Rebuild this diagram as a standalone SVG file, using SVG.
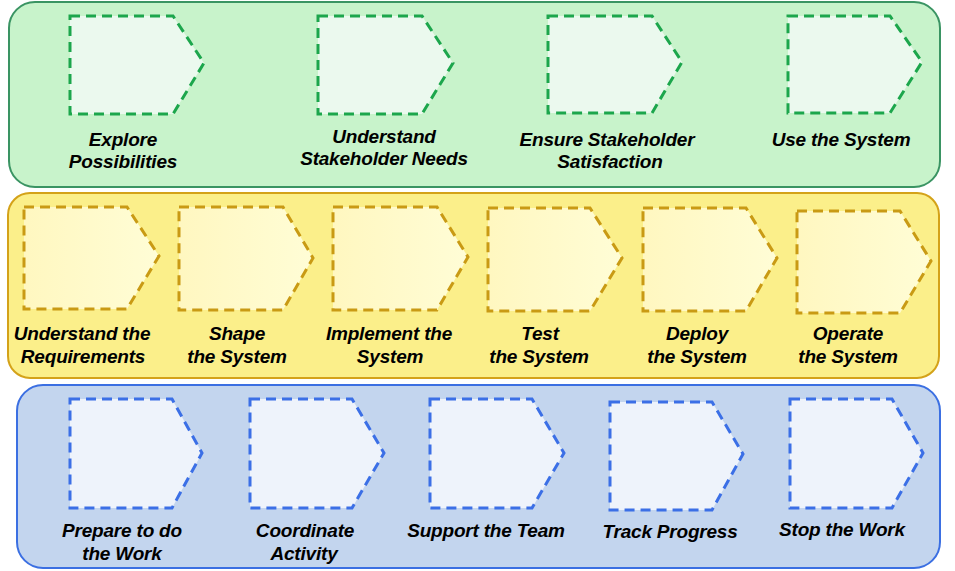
<svg xmlns="http://www.w3.org/2000/svg" width="955" height="571" viewBox="0 0 955 571">
  <defs>
    <style>
      .band-g { fill: #c8f3cb; stroke: #3a9463; stroke-width: 2; }
      .band-y { fill: #fbef8a; stroke: #d4a219; stroke-width: 2; }
      .band-b { fill: #c3d5ee; stroke: #3b6fe2; stroke-width: 2; }
      .step { stroke-width: 3; stroke-dasharray: 10 6; stroke-linejoin: miter; }
      .step-g { fill: #ebf9ee; stroke: #1ca64c; }
      .step-y { fill: url(#yfill); stroke: #c99a14; }
      .step-b { fill: #eef3fb; stroke: #3b6fe6; }
      text { font-family: "Liberation Sans", Arial, sans-serif; font-size: 19px; font-weight: bold; font-style: italic; fill: #000; text-anchor: middle; letter-spacing: -0.2px; }
    </style>
    <linearGradient id="yfill" x1="0" y1="0" x2="1" y2="0">
      <stop offset="0" stop-color="#fff7c0"/>
      <stop offset="1" stop-color="#fffdd6"/>
    </linearGradient>
  </defs>

  <!-- Swim-lane bands -->
  <g id="bands">
    <rect class="band-g" x="9" y="2" width="931" height="185" rx="26" ry="26"/>
    <rect class="band-y" x="8" y="193" width="931" height="185" rx="22" ry="22"/>
    <rect class="band-b" x="17" y="385" width="923" height="183" rx="26" ry="26"/>
  </g>

  <!-- Customer area -->
  <g id="explore-possibilities">
    <polygon class="step step-g" points="70,16 173,16 204,63 173,114 70,114"/>
    <text x="123" y="146">Explore</text>
    <text x="123" y="168">Possibilities</text>
  </g>
  <g id="understand-stakeholder-needs">
    <polygon class="step step-g" points="318,16 422,16 453,63 422,114 318,114"/>
    <text x="384" y="143">Understand</text>
    <text x="384" y="165">Stakeholder Needs</text>
  </g>
  <g id="ensure-stakeholder-satisfaction">
    <polygon class="step step-g" points="548,16 652,16 682,62 652,113 548,113"/>
    <text x="607" y="146">Ensure Stakeholder</text>
    <text x="610" y="168">Satisfaction</text>
  </g>
  <g id="use-the-system">
    <polygon class="step step-g" points="788,16 890,16 922,62 890,113 788,113"/>
    <text x="841" y="146">Use the System</text>
  </g>

  <!-- Solution area -->
  <g id="understand-requirements">
    <polygon class="step step-y" points="24,207 127,207 159,256 127,309 24,309"/>
    <text x="82" y="340">Understand the</text>
    <text x="83" y="363">Requirements</text>
  </g>
  <g id="shape-the-system">
    <polygon class="step step-y" points="179,207 283,207 313,258 283,310 179,310"/>
    <text x="237" y="340">Shape</text>
    <text x="237" y="363">the System</text>
  </g>
  <g id="implement-the-system">
    <polygon class="step step-y" points="333,207 437,207 468,257 437,310 333,310"/>
    <text x="389" y="340">Implement the</text>
    <text x="390" y="363">System</text>
  </g>
  <g id="test-the-system">
    <polygon class="step step-y" points="488,208 590,208 622,258 590,311 488,311"/>
    <text x="540" y="340">Test</text>
    <text x="539" y="363">the System</text>
  </g>
  <g id="deploy-the-system">
    <polygon class="step step-y" points="643,208 746,208 777,258 746,311 643,311"/>
    <text x="697" y="340">Deploy</text>
    <text x="697" y="363">the System</text>
  </g>
  <g id="operate-the-system">
    <polygon class="step step-y" points="797,211 900,211 931,261 900,313 797,313"/>
    <text x="848" y="340">Operate</text>
    <text x="848" y="363">the System</text>
  </g>

  <!-- Endeavor area -->
  <g id="prepare-to-do-the-work">
    <polygon class="step step-b" points="70,399 172,399 202,453 172,508 70,508"/>
    <text x="122" y="537">Prepare to do</text>
    <text x="122" y="560">the Work</text>
  </g>
  <g id="coordinate-activity">
    <polygon class="step step-b" points="250,399 352,399 384,453 352,508 250,508"/>
    <text x="305" y="537">Coordinate</text>
    <text x="304" y="560">Activity</text>
  </g>
  <g id="support-the-team">
    <polygon class="step step-b" points="430,399 532,399 564,453 532,508 430,508"/>
    <text x="486" y="537">Support the Team</text>
  </g>
  <g id="track-progress">
    <polygon class="step step-b" points="610,402 712,402 743,454 712,510 610,510"/>
    <text x="670" y="538">Track Progress</text>
  </g>
  <g id="stop-the-work">
    <polygon class="step step-b" points="790,399 892,399 923,453 892,508 790,508"/>
    <text x="842" y="536">Stop the Work</text>
  </g>

  <!-- No connectors between the steps -->
  <g id="connectors"/>
</svg>
